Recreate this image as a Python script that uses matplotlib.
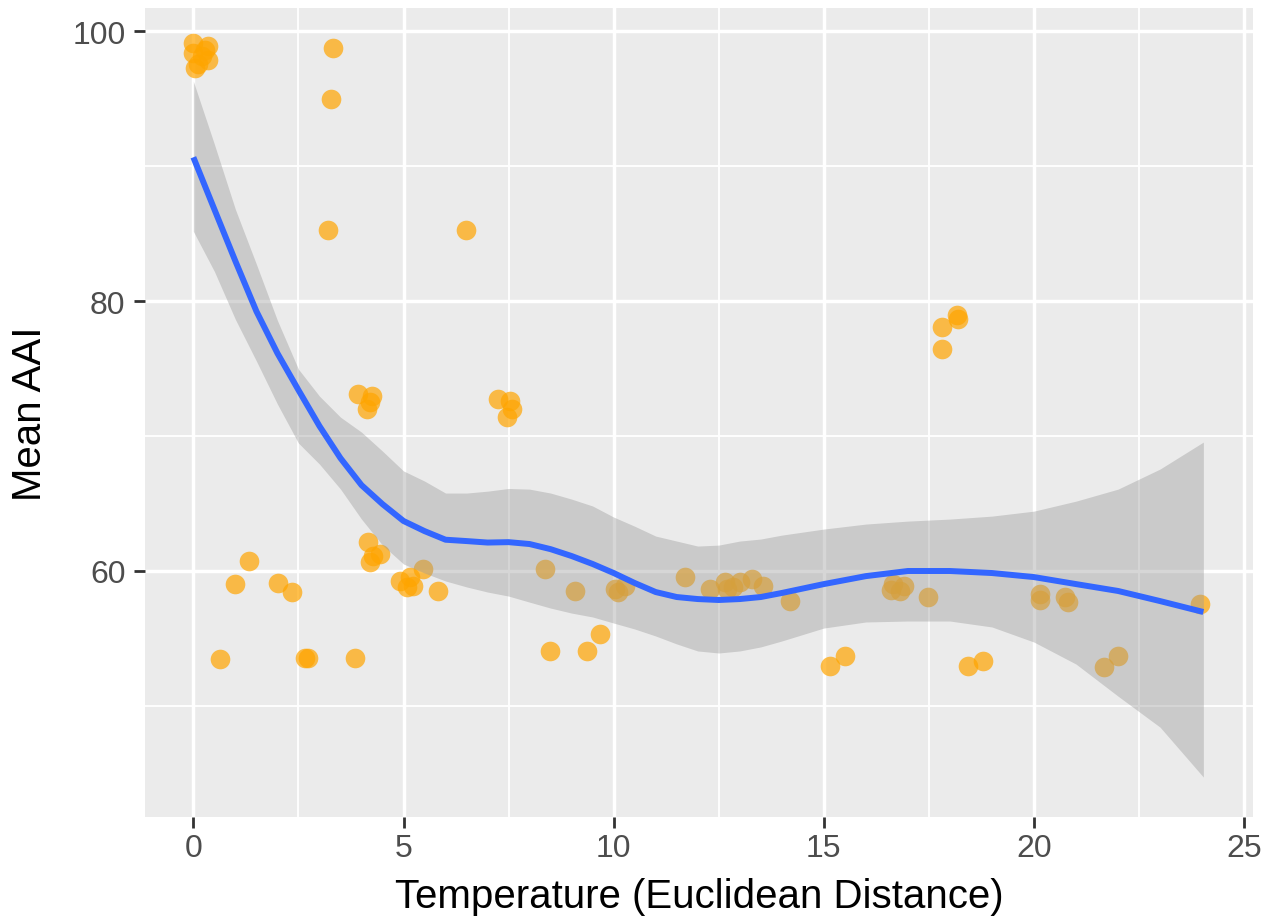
import numpy as np
import matplotlib.pyplot as plt

plt.rcParams['font.family'] = ['Liberation Sans', 'DejaVu Sans']

# observed mean AAI against temperature distance
temp = [0.0, 0.35, 0.05, 0.2, 0.0, 0.35, 0.1, 0.28,
        3.32, 3.28, 3.2, 6.49,
        3.91, 4.25, 4.13, 4.2,
        7.24, 7.54, 7.47, 7.59,
        4.16, 4.27, 4.44, 4.2,
        4.92, 5.16, 5.08, 5.47, 5.23, 5.82,
        0.64, 2.66, 2.72, 3.85, 1.33, 0.99, 2.01, 2.35,
        8.37, 9.08, 10.03, 10.27, 10.1, 8.49, 9.37, 9.68,
        11.7, 12.29, 12.65, 12.7, 13.0, 13.29, 13.56, 12.84, 14.2,
        15.15, 15.5,
        16.65, 16.82, 16.6, 16.9, 17.48,
        18.43, 18.79,
        17.81, 17.81, 18.17, 18.2,
        20.14, 20.14, 20.74, 20.8,
        21.67, 22.0, 23.95]
aai = [99.1, 98.9, 97.3, 98.2, 98.4, 97.9, 97.6, 98.6,
       98.75, 94.95, 85.26, 85.26,
       73.09, 72.94, 71.98, 72.5,
       72.73, 72.58, 71.39, 71.98,
       62.13, 61.09, 61.24, 60.64,
       59.24, 59.53, 58.79, 60.13, 58.86, 58.5,
       53.45, 53.5, 53.5, 53.5, 60.72, 59.0, 59.1, 58.4,
       60.13, 58.5, 58.64, 58.86, 58.4, 54.05, 54.05, 55.3,
       59.53, 58.64, 59.16, 58.64, 59.16, 59.38, 58.86, 58.79, 57.75,
       52.93, 53.68,
       59.0, 58.5, 58.6, 58.9, 58.05,
       52.93, 53.3,
       78.07, 76.44, 79.0, 78.7,
       58.27, 57.8, 58.05, 57.7,
       52.86, 53.68, 57.5]

# loess fit with its confidence band
fit_x = [0, 0.5, 1, 1.5, 2, 2.5, 3, 3.5, 4, 4.5, 5, 5.5, 6, 6.5, 7, 7.5,
         8, 8.5, 9, 9.5, 10, 10.5, 11, 11.5, 12, 12.5, 13, 13.5, 14, 15,
         16, 17, 18, 19, 20, 21, 22, 23, 24.03]
fit_y = [90.66, 86.8, 82.96, 79.24, 76.13, 73.4, 70.73, 68.35, 66.35,
         64.94, 63.69, 62.94, 62.3, 62.2, 62.09, 62.12, 61.98, 61.6,
         61.09, 60.5, 59.83, 59.09, 58.42, 58.05, 57.9, 57.83, 57.9,
         58.05, 58.35, 59.01, 59.6, 59.98, 59.98, 59.83, 59.53, 59.01,
         58.5, 57.75, 56.94]
fit_hi = [96.3, 91.63, 86.8, 82.73, 78.56, 74.95, 72.95, 71.39, 70.28,
          68.87, 67.4, 66.65, 65.76, 65.76, 65.9, 66.1, 66.05, 65.76,
          65.31, 64.8, 63.98, 63.3, 62.57, 62.2, 61.83, 61.9, 62.2,
          62.35, 62.64, 63.09, 63.46, 63.68, 63.83, 64.05, 64.42, 65.16,
          66.05, 67.54, 69.54]
fit_lo = [85.17, 82.2, 78.64, 75.55, 72.36, 69.47, 67.91, 66.06, 63.83,
          61.9, 60.5, 59.83, 59.24, 58.8, 58.42, 58.12, 57.67, 57.23,
          56.86, 56.57, 56.12, 55.68, 55.16, 54.57, 54.05, 53.9, 54.05,
          54.35, 54.79, 55.75, 56.2, 56.27, 56.27, 55.83, 54.71, 53.08,
          50.7, 48.4, 44.7]

fig = plt.figure(figsize=(12.71, 9.2), dpi=100)
ax = fig.add_axes([0.1141, 0.1112, 0.8717, 0.879])
ax.set_facecolor('#EBEBEB')
for s in ax.spines.values():
    s.set_visible(False)

ax.scatter(temp, aai, s=200, color='orange', alpha=0.7, linewidths=0, zorder=3)
ax.fill_between(fit_x, fit_lo, fit_hi, color='#999999', alpha=0.4,
                linewidth=0, zorder=4)
ax.plot(fit_x, fit_y, color='#3366FF', linewidth=4.3, zorder=5,
        solid_capstyle='butt', solid_joinstyle='round')

ax.set_xlim(-1.15, 25.21)
ax.set_ylim(41.76, 101.73)
ax.set_xticks([0, 5, 10, 15, 20, 25])
ax.set_xticks([2.5, 7.5, 12.5, 17.5, 22.5], minor=True)
ax.set_yticks([60, 80, 100])
ax.set_yticks([50, 70, 90], minor=True)
ax.grid(which='major', color='white', linewidth=2.5, zorder=0)
ax.grid(which='minor', color='white', linewidth=1.3, zorder=0)
ax.set_axisbelow(True)
ax.tick_params(which='major', length=8, width=2, color='#333333',
               labelcolor='#4D4D4D', labelsize=23)
ax.tick_params(axis='x', pad=4)
ax.tick_params(axis='y', pad=6)
ax.tick_params(which='minor', length=0)

ax.set_xlabel('Temperature (Euclidean Distance)', fontsize=29, labelpad=10)
ax.set_ylabel('Mean AAI', fontsize=29, labelpad=17)

fig.savefig('out.png', dpi=100)
